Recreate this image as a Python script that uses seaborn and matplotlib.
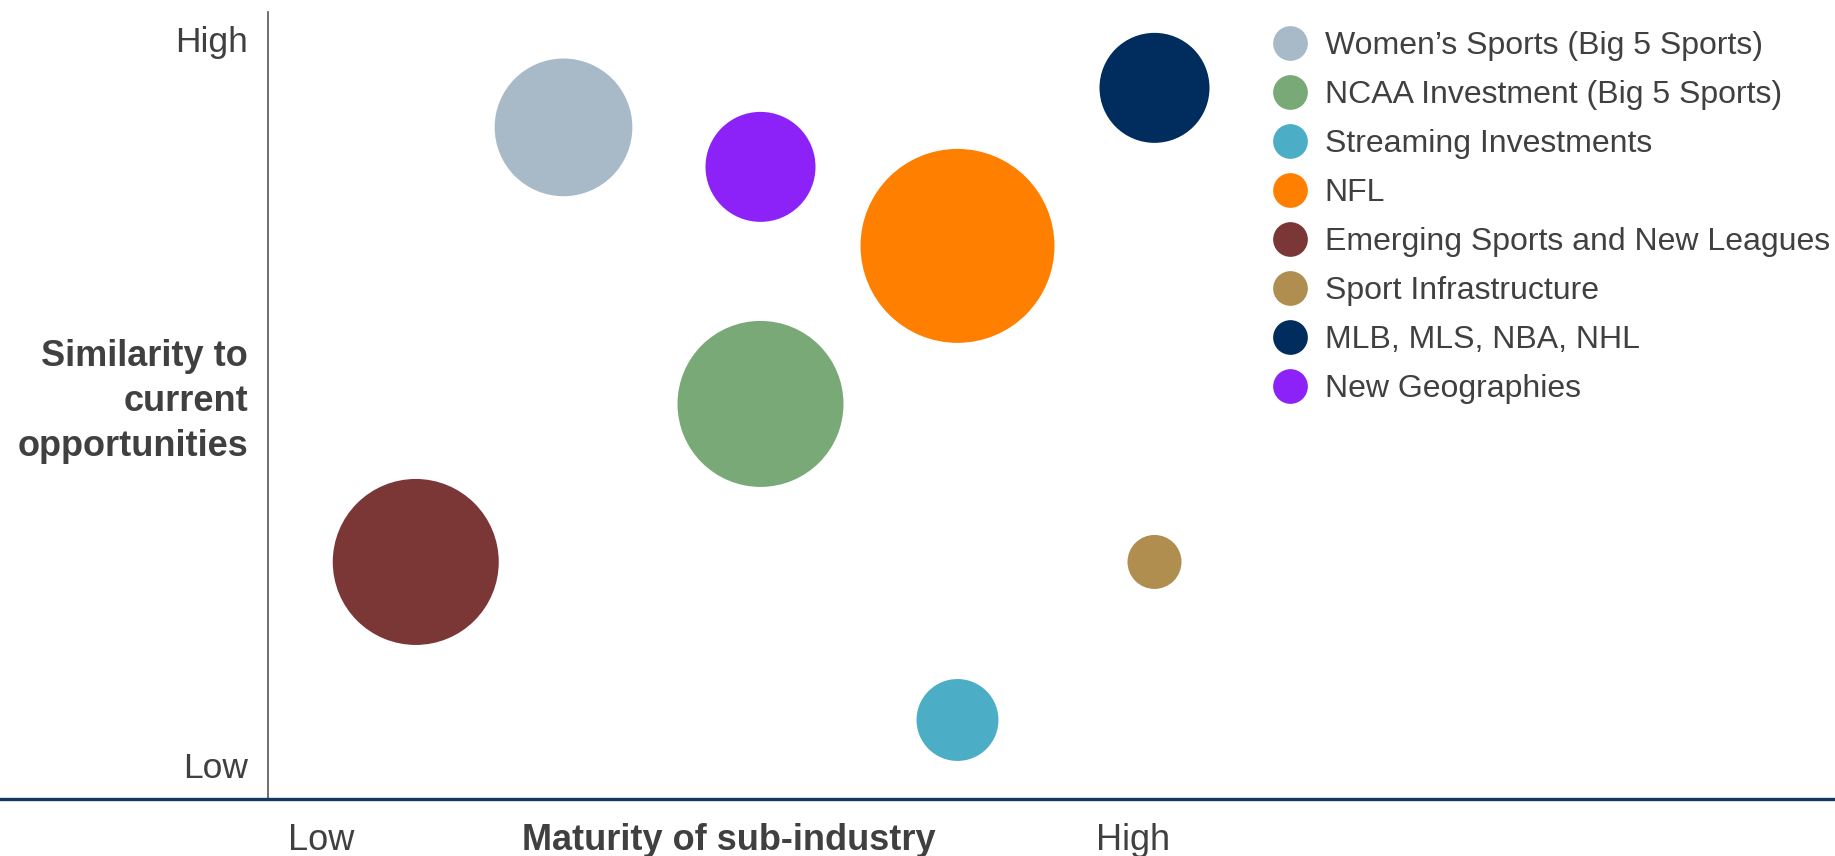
import pandas as pd
import seaborn as sns
import matplotlib.pyplot as plt
from matplotlib.lines import Line2D

# bubble data: maturity (x), similarity (y), relative bubble area
segments = ['Women\u2019s Sports (Big 5 Sports)', 'NCAA Investment (Big 5 Sports)',
            'Streaming Investments', 'NFL', 'Emerging Sports and New Leagues',
            'Sport Infrastructure', 'MLB, MLS, NBA, NHL', 'New Geographies']
maturity = [2, 3, 4, 4, 1.25, 5, 5, 3]
similarity = [4.75, 3, 1, 4, 2, 2, 5, 4.5]
bubble_area = [6.5, 9.45, 2.3, 12.9, 9.45, 1.0, 4.15, 4.15]
colors = ['#A8B9C7', '#78A976', '#4BADC6', '#FF7F00', '#7B3636', '#AF8E50', '#002D5D', '#8D22F8']

x_ticks = ['Low', 'High']
y_ticks = ['Low', 'High']

df = pd.DataFrame({'segment': segments, 'maturity': maturity,
                   'similarity': similarity, 'area': bubble_area})

sns.set_style("white")
plt.rcParams['font.family'] = ['Liberation Sans', 'DejaVu Sans']
text_col = '#404040'

W, H = 1835, 856
fig = plt.figure(figsize=(W / 100, H / 100), dpi=100)
ax = fig.add_axes([268 / W, 57 / H, (W - 268) / W, (799 - 12) / H])

k = (2 * 27 * 0.72) ** 2  # points^2 per unit area
sns.scatterplot(data=df, x='maturity', y='similarity', hue='segment', size='area',
                palette=dict(zip(segments, colors)),
                sizes=(k * min(bubble_area), k * max(bubble_area)),
                size_norm=(min(bubble_area), max(bubble_area)),
                linewidth=0, legend=False, ax=ax, zorder=3)

ax.set_xlim(0.5, 0.5 + (W - 268) / 197)
ax.set_ylim(0.5, 5.48)
ax.set_xticks([])
ax.set_yticks([])
ax.set_xlabel('')
ax.set_ylabel('')
for s in ['top', 'right', 'bottom']:
    ax.spines[s].set_visible(False)
ax.spines['left'].set_color('#555555')
ax.spines['left'].set_linewidth(1.2)

# bottom rule across the whole figure
fig.add_artist(Line2D([0, 1], [57 / H, 57 / H], color='#14365F', linewidth=2.4,
                      transform=fig.transFigure))

# y axis labels
for yv, lab in [(5.23, y_ticks[1]), (0.635, y_ticks[0])]:
    ax.annotate(lab, xy=(0, yv), xycoords=('axes fraction', 'data'),
                xytext=(-14.4, 0), textcoords='offset points', ha='right', va='baseline',
                fontsize=25.5, color=text_col, annotation_clip=False)
ax.annotate('Similarity to\ncurrent\nopportunities', xy=(0, 3.015),
            xycoords=('axes fraction', 'data'), xytext=(-14.4, 0), textcoords='offset points',
            ha='right', va='center', fontsize=26, fontweight='bold', color=text_col,
            linespacing=1.36, annotation_clip=False)

# x axis labels
for xv, lab, bold in [(0.77, x_ticks[0], False), (2.84, 'Maturity of sub-industry', True),
                      (4.89, x_ticks[1], False)]:
    ax.annotate(lab, xy=(xv, 0), xycoords=('data', 'axes fraction'),
                xytext=(0, -36.5), textcoords='offset points', ha='center', va='baseline',
                fontsize=26, fontweight='bold' if bold else 'normal',
                color=text_col, annotation_clip=False)

handles = [Line2D([], [], marker='o', linestyle='', markersize=25, markeredgewidth=0,
                  markerfacecolor=c) for c in colors]
fig.legend(handles, segments, loc='upper left', bbox_to_anchor=(1272 / W, 1 - 31 / H),
           frameon=False, fontsize=23, labelcolor=text_col, handlelength=1.15,
           handletextpad=0.5, labelspacing=0.595, borderpad=0, borderaxespad=0)

fig.savefig('out.png', dpi=100)
